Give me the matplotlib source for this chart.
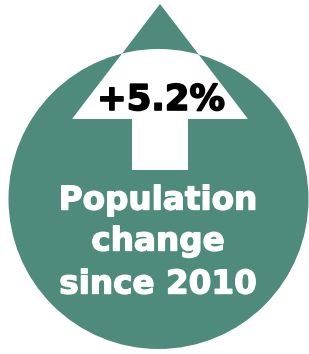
import matplotlib
matplotlib.use("Agg")
import matplotlib.pyplot as plt
from matplotlib.patches import Circle, Polygon
import matplotlib.patheffects as pe

# data
change_value = 5.2
label_lines = ["Population", "change", "since 2010"]

teal = "#4e8b7c"
W, H = 309, 354
fig = plt.figure(figsize=(W / 100, H / 100), dpi=100)
ax = fig.add_axes([0, 0, 1, 1])
ax.set_xlim(0, W)
ax.set_ylim(H, 0)
ax.axis("off")

circ = Circle((158.5, 199), 150, facecolor=teal, edgecolor="none")
ax.add_patch(circ)

arrow_pts = [(160, 4), (248, 119), (188, 119), (188, 170), (132, 170), (132, 119), (72, 119)]
ax.add_patch(Polygon(arrow_pts, closed=True, facecolor=teal, edgecolor="none"))
white_arrow = Polygon(arrow_pts, closed=True, facecolor="white", edgecolor="none")
ax.add_patch(white_arrow)
white_arrow.set_clip_path(Circle((158.5, 199), 150, transform=ax.transData))

ax.text(161, 100, f"+{change_value}%", ha="center", va="center", fontsize=25.5,
        fontweight="bold", color="black", family="DejaVu Sans",
        path_effects=[pe.withStroke(linewidth=1.2, foreground="black")])

ys = [200, 241, 284]
for y, t in zip(ys, label_lines):
    ax.text(158, y, t, ha="center", va="center", fontsize=23.5, fontweight="bold",
            color="white", family="DejaVu Sans",
            path_effects=[pe.withStroke(linewidth=1.0, foreground="white")])

fig.savefig("out.png", dpi=100)
